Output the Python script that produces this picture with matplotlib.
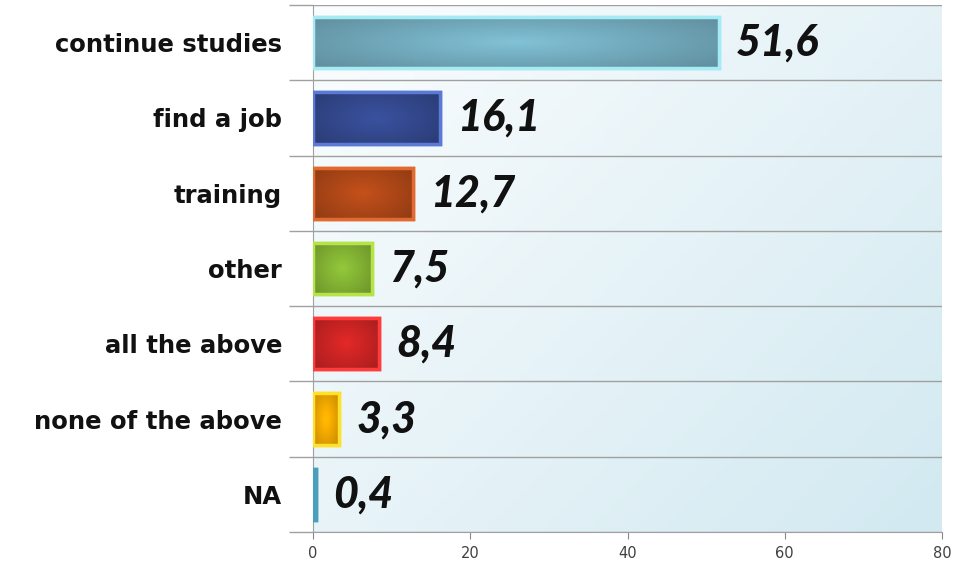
import numpy as np
import matplotlib
matplotlib.use("Agg")
import matplotlib.pyplot as plt
from matplotlib.colors import to_rgb
from matplotlib.patches import Rectangle

categories = ["continue studies", "find a job", "training", "other",
              "all the above", "none of the above", "NA"]
values = [51.6, 16.1, 12.7, 7.5, 8.4, 3.3, 0.4]
value_labels = ["51,6", "16,1", "12,7", "7,5", "8,4", "3,3", "0,4"]
xticks = [0, 20, 40, 60, 80]

face_colors = ["#74adc0", "#34498f", "#b04818", "#84b434", "#cc2424", "#f0a800", "#2f7f98"]
edge_colors = ["#a6eaf4", "#5a7ad6", "#e06a30", "#b4e44a", "#ff3c3c", "#ffe02a", "#4aa0bc"]

fig = plt.figure(figsize=(9.65, 5.66), dpi=100)
ax = fig.add_axes([313/965, 1-532/566, (942-313)/965, (532-5)/566])

n = len(categories)
ax.set_xlim(0, 80)
ax.set_ylim(n - 0.5, -0.5)

# background gradient
gx = np.linspace(0, 1, 200)
gy = np.linspace(0, 1, 100)
GX, GY = np.meshgrid(gx, gy)
t = np.clip(0.55 * GX + 0.45 * GY, 0, 1)
c0 = np.array(to_rgb("#fbfdfe"))
c1 = np.array(to_rgb("#d2e9f1"))
bg = c0[None, None, :] * (1 - t[..., None]) + c1[None, None, :] * t[..., None]
ax.imshow(bg, extent=[0, 80, n - 0.5, -0.5], aspect="auto", zorder=0)

ypos = np.arange(n)
bh = 0.68
bars = ax.barh(ypos, values, height=bh, color=face_colors,
               edgecolor=edge_colors, linewidth=2.5, zorder=3)

# gradient sheen inside bars
for b, fc in zip(bars, face_colors):
    x0, y0 = b.get_x(), b.get_y()
    w, h = b.get_width(), b.get_height()
    base = np.array(to_rgb(fc))
    lx = np.linspace(-1, 1, 100)
    ly = np.linspace(-1, 1, 50)
    LX, LY = np.meshgrid(lx, ly)
    r = np.sqrt((LX * 0.9) ** 2 + (LY * 0.8) ** 2)
    f = 1.12 - 0.25 * np.clip(r, 0, 1.3)
    img = np.clip(base[None, None, :] * f[..., None], 0, 1)
    im = ax.imshow(img, extent=[x0, x0 + w, y0 + h, y0], aspect="auto", zorder=3.5)
    im.set_clip_path(b)
    b2 = Rectangle((x0, y0), w, h, fill=False, edgecolor=b.get_edgecolor(),
                   linewidth=2.5, zorder=4)
    ax.add_patch(b2)

for y, v, lab in zip(ypos, values, value_labels):
    ax.text(v + 2.2, y, lab, va="center", ha="left", fontsize=31,
            fontweight="black", fontstyle="italic", family="Lato",
            color="#111111", zorder=5)

# gridlines at category boundaries
bounds = np.arange(-0.5, n, 1.0)
for yb in bounds:
    ax.axhline(yb, color="#a0a0a0", lw=1.0, zorder=2)
ax.set_yticks(bounds)
ax.set_yticklabels([])
ax.tick_params(axis="y", which="major", length=17, color="#a0a0a0", width=1)
ax.set_yticks(ypos, minor=True)
ax.set_yticklabels(categories, minor=True, fontsize=17.5, fontweight="bold",
                   family="DejaVu Sans", color="#111111")
ax.tick_params(axis="y", which="minor", length=0, pad=22.3)

ax.set_xticks(xticks)
ax.set_xticklabels([str(x) for x in xticks], fontsize=10.5, color="#404040",
                   family="DejaVu Sans")
ax.tick_params(axis="x", length=5, color="#888888", pad=5)

for s in ["top", "right"]:
    ax.spines[s].set_visible(False)
ax.spines["left"].set_color("#a0a0a0")
ax.spines["bottom"].set_color("#a0a0a0")

fig.savefig("out.png", dpi=100)
